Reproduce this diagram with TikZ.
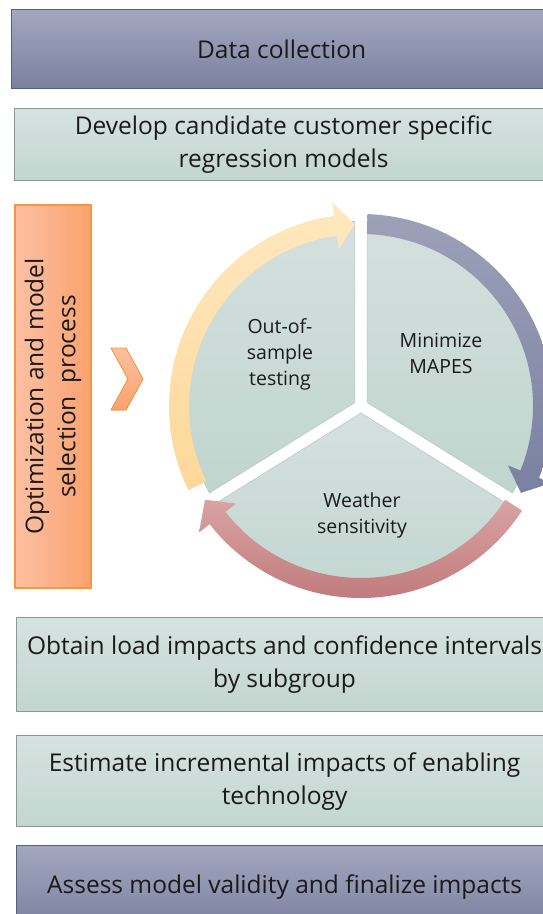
\documentclass[tikz,border=0pt]{standalone}
\usepackage{fontspec}
\setmainfont{Open Sans}
\usetikzlibrary{positioning}
\definecolor{bluetop}{HTML}{A3A8C0}
\definecolor{bluebot}{HTML}{7B809F}
\definecolor{blueline}{HTML}{56607C}
\definecolor{greentop}{HTML}{D6E2DF}
\definecolor{greenbot}{HTML}{C3D6D0}
\definecolor{greenline}{HTML}{8C9894}
\definecolor{orleft}{HTML}{FDC0A2}
\definecolor{orright}{HTML}{F9A26E}
\definecolor{orline}{HTML}{F7963F}
\definecolor{pietop}{HTML}{D5E0DE}
\definecolor{piebot}{HTML}{C0D5CE}
\definecolor{pieline}{HTML}{B7CBC5}
\definecolor{yeltop}{HTML}{FFE8BF}
\definecolor{yelbot}{HTML}{FDD898}
\definecolor{arrbluetop}{HTML}{9CA1B8}
\definecolor{arrbluebot}{HTML}{7A80A1}
\definecolor{redtop}{HTML}{D9A3A3}
\definecolor{redbot}{HTML}{C07A7C}
\definecolor{txt}{HTML}{1A1A1A}
% cycle arrow: tail angle, head base angle, tip angle, top colour, bottom colour
\newcommand{\cyclearrow}[5]{%
  \shade[top color=#4, bottom color=#5]
    (#1:192) arc[start angle=#1, end angle=#2, radius=192]
    -- (#2:205.5) -- (#3:182) -- (#2:158.5) -- (#2:172)
    arc[start angle=#2, end angle=#1, radius=172] -- cycle;}

\begin{document}
\begin{tikzpicture}[x=1pt, y=1pt,
  bluebox/.style={draw=blueline, top color=bluetop, bottom color=bluebot, line width=1.2pt,
    minimum width=540pt, minimum height=79pt, anchor=north west, inner sep=0pt,
    align=center, text=txt, font=\fontsize{24.5}{33}\selectfont},
  greenbox/.style={bluebox, draw=greenline, top color=greentop, bottom color=greenbot},
  pietext/.style={align=center, text=txt, font=\fontsize{19.5}{26}\selectfont},
  slice/.style={top color=pietop, bottom color=piebot, draw=pieline, line width=0.6pt}]
\path[use as bounding box, clip] (0,0) rectangle (543,-914);

% steps above and below the cycle
\node[bluebox] (datacoll) at (11,-9) {Data collection};
\node[greenbox, minimum width=538pt, minimum height=72pt] (develop) at (14,-108)
  {Develop candidate customer specific\\regression models};
\node[greenbox, minimum width=536pt, minimum height=94pt] (obtain) at (16,-617)
  {Obtain load impacts and confidence intervals\\by subgroup};
\node[greenbox, minimum width=536pt, minimum height=91pt] (estimate) at (16,-735)
  {Estimate incremental impacts of enabling\\technology};
\node[bluebox, minimum width=536pt, minimum height=82pt] (assess) at (16,-845)
  {Assess model validity and finalize impacts};

% side label and chevron
\node[rotate=90, draw=orline, line width=1.2pt, left color=orleft, right color=orright,
  minimum width=383pt, minimum height=76pt, inner sep=0pt, align=center, text=txt,
  font=\fontsize{24.5}{32}\selectfont] (optim) at (53,-396.5)
  {Optimization and model\\selection\ \ process};
\filldraw[draw=orline, line width=0.8pt, top color=orleft, bottom color=orright]
  (111,-348) -- (126,-348) -- (143,-379) -- (126,-410) -- (111,-410) -- (128,-379) -- cycle;

% cycle
\begin{scope}[shift={(361,-406)}]
\path[slice, shift={(150:7)}] (0,0) -- (90:168 and 181)
  arc[start angle=90, end angle=210, x radius=168, y radius=181] -- cycle;
\path[slice, shift={(30:7)}] (0,0) -- (-30:168 and 181)
  arc[start angle=-30, end angle=90, x radius=168, y radius=181] -- cycle;
\path[slice, shift={(270:7)}] (0,0) -- (210:168 and 181)
  arc[start angle=210, end angle=330, x radius=168, y radius=181] -- cycle;
\cyclearrow{206}{98}{92}{yeltop}{yelbot}
\cyclearrow{88}{-22}{-28.5}{arrbluetop}{arrbluebot}
\cyclearrow{-33}{-142}{-149}{redtop}{redbot}
\end{scope}
\node[pietext] (oos) at (280,-354) {Out-of-\\sample\\testing};
\node[pietext] (mape) at (441,-353) {Minimize\\MAPES};
\node[pietext] (weather) at (362,-515) {Weather\\sensitivity};
\end{tikzpicture}
\end{document}
